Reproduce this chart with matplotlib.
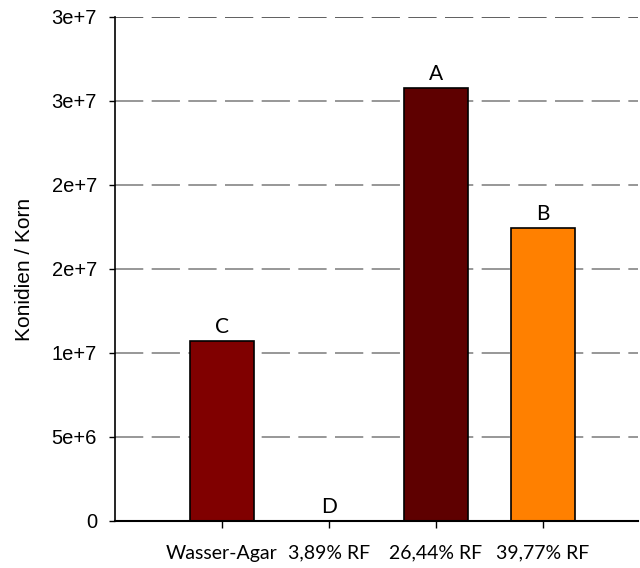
import numpy as np
import matplotlib
matplotlib.use("Agg")
import matplotlib.pyplot as plt

# data
categories = ["Wasser-Agar", "3,89% RF", "26,44% RF", "39,77% RF"]
konidien = [1.071e7, 0.0, 2.576e7, 1.742e7]
letters = ["C", "D", "A", "B"]
bar_colors = ["#800000", "#800000", "#5e0000", "#ff8000"]
yticks = [0, 5e6, 1e7, 1.5e7, 2e7, 2.5e7, 3e7]
ytick_labels = ["0", "5e+6", "1e+7", "2e+7", "2e+7", "3e+7", "3e+7"]

fig = plt.figure(figsize=(6.4, 5.68), dpi=100)
ax = fig.add_axes([115 / 640, 1 - 521 / 568, (638 - 115) / 640, (521 - 17) / 568])

x = np.arange(1, len(categories) + 1)
ax.set_xlim(0, 4.89)
ax.set_ylim(0, 3e7)

# dashed gridlines behind the bars
for v in yticks[1:]:
    ax.axhline(v, color="#333333" if v == yticks[-1] else "#7a7a7a",
               lw=1.1, linestyle=(0, (18.5, 5.5)), zorder=0)

bars = ax.bar(x, konidien, width=0.6, color=bar_colors, edgecolor="black",
              linewidth=1.2, zorder=2)

for xi, v, lab in zip(x, konidien, letters):
    ax.annotate(lab, (xi, v), xytext=(0, 3), textcoords="offset points",
                ha="center", va="bottom", fontsize=15, family="Lato")

ax.set_yticks(yticks)
ax.set_yticklabels(ytick_labels, family="Liberation Sans", fontsize=14.5)
ax.set_xticks(x)
ax.set_xticklabels(categories, family="Lato", fontsize=14)
ax.tick_params(axis="y", length=4.5, width=1, pad=8.5)
ax.tick_params(axis="x", length=5, width=1, pad=12)

ax.set_ylabel("Konidien / Korn", family="Liberation Sans", fontsize=15)
ax.yaxis.set_label_coords(-0.155, 0.5)

for s in ["top", "right"]:
    ax.spines[s].set_visible(False)
ax.spines["left"].set_linewidth(1.2)
ax.spines["bottom"].set_linewidth(1.5)

fig.savefig("out.png", dpi=100)
